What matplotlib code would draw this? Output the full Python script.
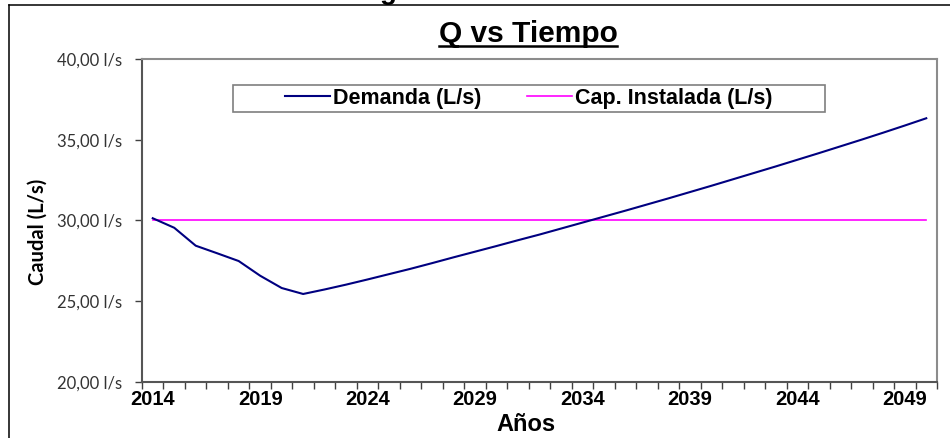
import matplotlib
matplotlib.use("Agg")
import matplotlib.pyplot as plt
from matplotlib.lines import Line2D
from matplotlib.patches import Rectangle

# Data
years = list(range(2014, 2051))
demanda = [30.14, 29.55, 28.44, 27.97, 27.49, 26.58, 25.82, 25.45, 25.73, 26.03,
           26.35, 26.68, 27.01, 27.36, 27.72, 28.07, 28.42, 28.78, 29.13, 29.50,
           29.87, 30.24, 30.61, 30.99, 31.37, 31.76, 32.15, 32.55, 32.95, 33.35,
           33.76, 34.17, 34.59, 35.01, 35.44, 35.88, 36.33]
capacidad = [30.0] * len(years)
label_years = [2014, 2019, 2024, 2029, 2034, 2039, 2044, 2049]
y_ticks = [20, 25, 30, 35, 40]

W, H = 950, 438
fig = plt.figure(figsize=(9.5, 4.38), dpi=100)
fig.patch.set_facecolor("white")

# plot area in pixels: left 142, right 937, top 59, bottom 382
ax = fig.add_axes([142 / W, 1 - 382 / H, (937 - 142) / W, (382 - 59) / H])

ax.plot(years, demanda, color="#000080", lw=1.5, label="Demanda (L/s)", zorder=3)
ax.plot(years, capacidad, color="#FF00FF", lw=1.2, label="Cap. Instalada (L/s)", zorder=2)

ax.set_xlim(2013.5, 2050.5)
ax.set_ylim(20, 40)

ax.set_xticks(label_years)
ax.set_xticklabels([str(y) for y in label_years])
ax.set_xticks([y - 0.5 for y in years] + [2050.5], minor=True)
ax.tick_params(axis="x", which="major", length=0, pad=6)
ax.tick_params(axis="x", which="minor", length=5, width=1, color="#404040", direction="out")
for lb in ax.get_xticklabels():
    lb.set_fontfamily("Liberation Sans")
    lb.set_fontweight("bold")
    lb.set_fontsize(14.5)

ax.set_yticks(y_ticks)
ax.set_yticklabels(["%d,00 l/s" % v for v in y_ticks])
ax.tick_params(axis="y", length=5, width=1, color="#404040", direction="out", pad=9)
for lb in ax.get_yticklabels():
    lb.set_fontfamily("Lato")
    lb.set_fontsize(12)
    lb.set_color("#333333")

for side in ["top", "right"]:
    ax.spines[side].set_color("#8c8c8c")
    ax.spines[side].set_linewidth(1.5)
for side in ["left", "bottom"]:
    ax.spines[side].set_color("#555555")
    ax.spines[side].set_linewidth(1.5)

# legend box
x0, x1 = (233 - 142) / 795, (825 - 142) / 795
yb, yt = (382 - 112) / 323, (382 - 85) / 323
ax.add_patch(Rectangle((x0, yb), x1 - x0, yt - yb, transform=ax.transAxes,
                       facecolor="white", edgecolor="#7f7f7f", lw=1.2, zorder=5))
leg = ax.legend(loc="center", bbox_to_anchor=((x0 + x1) / 2, (yb + yt) / 2),
                ncol=2, frameon=False, handlelength=2.1, handletextpad=0.15,
                columnspacing=2.1, prop={"family": "Liberation Sans", "weight": "bold", "size": 15.5})
leg.set_zorder(6)

# titles
title = fig.text(528 / W, 1 - 42 / H, "Q vs Tiempo", ha="center", va="baseline",
                 fontsize=21.5, fontweight="bold", family="Liberation Sans")
fig.text(38 / W, 1 - 232 / H, "Caudal (L/s)", rotation=90, ha="center", va="center",
         fontsize=14.5, fontweight="bold", family="Lato")
fig.text(526 / W, 1 - 431 / H, "Años", ha="center", va="baseline",
         fontsize=17, fontweight="bold", family="Liberation Sans")

# cut-off heading above the frame (only its descender shows)
fig.text(388 / W, 1 + 1 / H, "g", ha="center", va="baseline",
         fontsize=20, fontweight="bold", family="Liberation Sans")

# outer frame
fig.add_artist(Line2D([9 / W, 1], [1 - 5 / H, 1 - 5 / H], color="black", lw=1.1))
fig.add_artist(Line2D([9 / W, 9 / W], [0, 1 - 5 / H], color="black", lw=1.1))

# underline title
fig.canvas.draw()
bb = title.get_window_extent()
fig.add_artist(Line2D([bb.x0 / W, bb.x1 / W], [1 - 46 / H, 1 - 46 / H], color="black", lw=1.8))

fig.savefig("out.png", dpi=100)
